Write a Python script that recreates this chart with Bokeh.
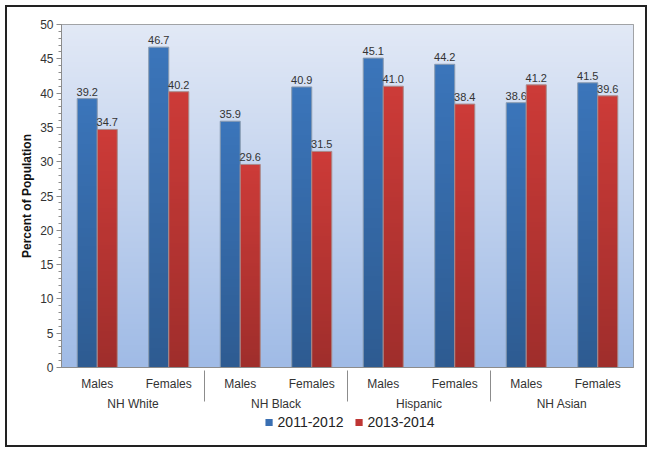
import numpy as np
from bokeh.plotting import figure
from bokeh.layouts import column
from bokeh.models import FactorRange, ColumnDataSource, Legend, LegendItem, FixedTicker, Range1d
from bokeh.transform import dodge
from bokeh.core.properties import value
from bokeh.embed import file_html
from bokeh.resources import INLINE

groups = ["NH White", "NH Black", "Hispanic", "NH Asian"]
sexes = ["Males", "Females"]
series_names = ["2011-2012", "2013-2014"]
values_2011_2012 = [39.2, 46.7, 35.9, 40.9, 45.1, 44.2, 38.6, 41.5]
values_2013_2014 = [34.7, 40.2, 29.6, 31.5, 41.0, 38.4, 41.2, 39.6]
y_ticks = [0, 5, 10, 15, 20, 25, 30, 35, 40, 45, 50]

factors = [(g, s) for g in groups for s in sexes]

FONT = "Liberation Sans"
BLUE = "#3b75ba"
RED = "#cc3b38"


def rgba_column(n, top_rgba, bot_rgba):
    t = np.linspace(0, 1, n)[:, None]
    c = (np.array(bot_rgba)[None, :] * (1 - t) + np.array(top_rgba)[None, :] * t).astype(np.uint8)
    img = np.empty((n, 1), dtype=np.uint32)
    img.view(dtype=np.uint8).reshape((n, 1, 4))[:, 0, :] = c
    return img


bar_shade = rgba_column(64, (0, 0, 0, 0), (0, 0, 0, 56))

src = ColumnDataSource(dict(
    x=factors,
    a=values_2011_2012,
    b=values_2013_2014,
    la=[f"{v:.1f}" for v in values_2011_2012],
    lb=[f"{v:.1f}" for v in values_2013_2014],
    shade=[bar_shade] * len(factors),
))

W = 638
x_range = FactorRange(*factors, group_padding=0, factor_padding=0, range_padding=0)
p = figure(x_range=x_range, y_range=Range1d(0, 50), width=W, height=406,
           output_backend="svg", toolbar_location=None,
           min_border_left=54, min_border_right=12, min_border_top=17, min_border_bottom=43)

# gradient background of the plotting area
p.image_rgba(image=[rgba_column(200, (226, 233, 246, 255), (160, 187, 230, 255))],
             x=0, y=0, dw=len(factors), dh=50)

w = 0.28
for col, off, color, line in (("a", -w / 2, BLUE, "#8a9bb0"), ("b", w / 2, RED, "#a98a8a")):
    p.vbar(x=dodge("x", off, range=p.x_range), top=col, width=w, source=src,
           fill_color=color, line_color=None)
    p.image_rgba(image="shade", x=dodge("x", off - w / 2, range=p.x_range), y=0,
                 dw=w, dh=col, source=src)
    p.vbar(x=dodge("x", off, range=p.x_range), top=col, width=w, source=src,
           fill_color=None, line_color=line, line_width=1)
    p.text(x=dodge("x", off, range=p.x_range), y=col, text="l" + col, source=src,
           text_align="center", text_baseline="bottom", y_offset=-3,
           text_font=value(FONT), text_font_size="11px", text_color="#333333")

p.grid.grid_line_color = None
p.outline_line_color = "#8c8c8c"
p.background_fill_color = "white"
p.border_fill_color = "white"

ya = p.yaxis[0]
ya.ticker = FixedTicker(ticks=y_ticks, minor_ticks=list(range(0, 51)))
ya.axis_label = "Percent of Population"
ya.axis_label_text_font = FONT
ya.axis_label_text_font_style = "bold"
ya.axis_label_text_font_size = "12px"
ya.axis_label_text_color = "#111111"
ya.axis_label_standoff = 3
ya.major_label_text_font = FONT
ya.major_label_text_font_size = "12px"
ya.major_label_text_color = "#333333"
ya.major_label_standoff = 3
ya.axis_line_color = "#8c8c8c"
ya.major_tick_line_color = "#8c8c8c"
ya.minor_tick_line_color = "#8c8c8c"
ya.major_tick_in = 0
ya.major_tick_out = 5
ya.minor_tick_in = 0
ya.minor_tick_out = 3

xa = p.xaxis[0]
xa.major_label_text_font = FONT
xa.major_label_text_font_size = "12px"
xa.major_label_text_color = "#333333"
xa.major_label_standoff = 3
xa.group_text_font = FONT
xa.group_text_font_size = "12px"
xa.group_text_color = "#333333"
xa.group_text_font_style = "normal"
xa.axis_line_color = "#8c8c8c"
xa.major_tick_line_color = None
xa.separator_line_color = "#8c8c8c"
xa.separator_line_width = 1

# legend in its own strip below the chart
pl = figure(x_range=Range1d(0, 1), y_range=Range1d(0, 1), width=W, height=32,
            output_backend="svg", toolbar_location=None,
            min_border=0, outline_line_color=None,
            x_axis_location=None, y_axis_location=None)
pl.grid.grid_line_color = None
l1 = pl.scatter(x=[5], y=[5], marker="square", size=8, fill_color="#3a6fb2", line_color=None)
l2 = pl.scatter(x=[5], y=[5], marker="square", size=8, fill_color="#bf3634", line_color=None)
legend = Legend(items=[LegendItem(label=series_names[0], renderers=[l1]),
                       LegendItem(label=series_names[1], renderers=[l2])],
                orientation="horizontal", location="top_center",
                label_text_font=FONT, label_text_font_size="14px", label_text_color="#222222",
                glyph_width=18, glyph_height=18, label_standoff=0, spacing=6,
                border_line_color=None, background_fill_alpha=0, padding=0, margin=0)
pl.add_layout(legend)

layout = column(p, pl, spacing=0, margin=(5, 0, 0, 5),
                styles={"border": "2px solid #222222", "background-color": "white"})

open("out.html", "w").write(file_html(layout, INLINE))
